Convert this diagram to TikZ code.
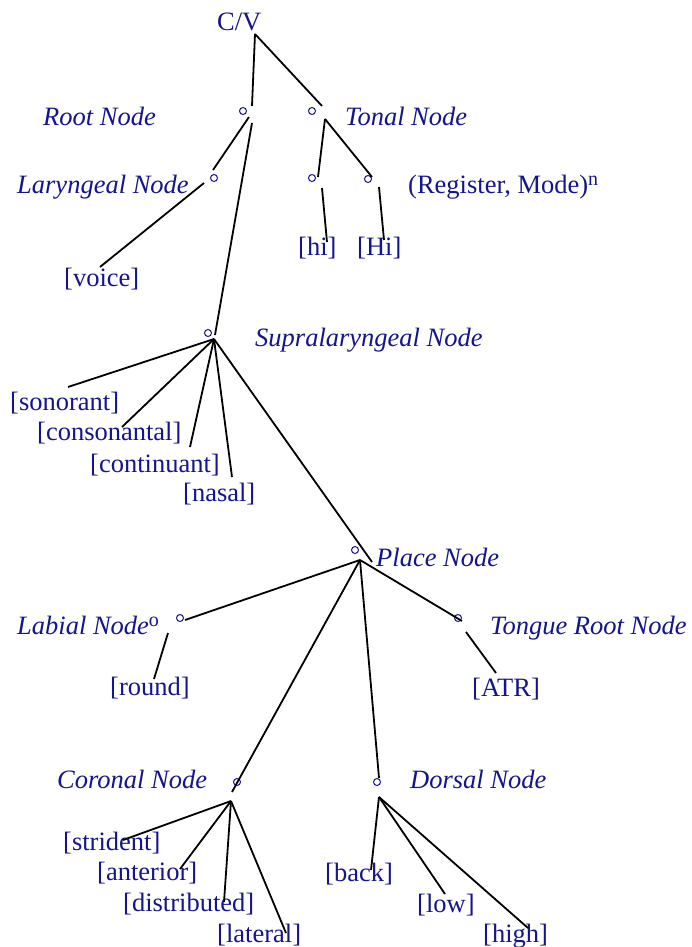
\documentclass[tikz,border=0pt]{standalone}
\usepackage{fontspec}
\setmainfont{Liberation Serif}
\definecolor{navy}{RGB}{20,20,140}
\newcommand{\supx}[1]{\raisebox{8pt}{\fontsize{20}{20}\selectfont\upshape #1}}
\begin{document}
\begin{tikzpicture}[x=1pt,y=-1pt,
 lbl/.style={anchor=base west,inner sep=0pt,text=navy,font=\fontsize{26.5}{30}\selectfont},
 ilbl/.style={lbl,font=\fontsize{26.5}{30}\selectfont\itshape},
 dot/.style={circle,draw=navy,line width=1pt,minimum size=7pt,inner sep=0pt},
 edge/.style={line width=1.8pt,black}]
\useasboundingbox (0,0) rectangle (692,947);
% labels
\node[lbl] (cv) at (217,31) {C/V};
\node[ilbl] (rootl) at (43,125) {Root Node};
\node[ilbl] (tonall) at (345,125) {Tonal Node};
\node[ilbl] (laryl) at (17,193) {Laryngeal Node};
\node[lbl] (reg) at (408,193) {(Register, Mode)\supx{n}};
\node[lbl] (voice) at (64,286) {[voice]};
\node[lbl] (hi) at (298,255) {[hi]};
\node[lbl] (Hi) at (357,255) {[Hi]};
\node[ilbl] (supl) at (255,346) {Supralaryngeal Node};
\node[lbl] (son) at (10,410) {[sonorant]};
\node[lbl] (cons) at (37,440) {[consonantal]};
\node[lbl] (cont) at (90,472) {[continuant]};
\node[lbl] (nas) at (183,501) {[nasal]};
\node[ilbl] (placel) at (376,566) {Place Node};
\node[ilbl] (labl) at (17,634) {Labial Node\supx{o}};
\node[ilbl] (trl) at (490,634) {Tongue Root Node};
\node[lbl] (round) at (110,695) {[round]};
\node[lbl] (atr) at (472,696) {[ATR]};
\node[ilbl] (corl) at (57,788) {Coronal Node};
\node[ilbl] (dorl) at (410,788) {Dorsal Node};
\node[lbl] (stri) at (63,850) {[strident]};
\node[lbl] (ant) at (97,880) {[anterior]};
\node[lbl] (dist) at (123,911) {[distributed]};
\node[lbl] (lat) at (217,942) {[lateral]};
\node[lbl] (back) at (325,881) {[back]};
\node[lbl] (low) at (417,912) {[low]};
\node[lbl] (high) at (483,942) {[high]};
% dots
\node[dot] (root) at (243,111) {};
\node[dot] (tonal) at (312,111) {};
\node[dot] (lary) at (214,178) {};
\node[dot] (tl) at (312,178) {};
\node[dot] (tr) at (368,179) {};
\node[dot] (supra) at (208,333) {};
\node[dot] (place) at (355,550) {};
\node[dot] (labial) at (180,618) {};
\node[dot] (tongue) at (458,618) {};
\node[dot] (coronal) at (237,782) {};
\node[dot] (dorsal) at (377,782) {};
% connector points
\coordinate (cvB) at (255,34);
\coordinate (rootT) at (252,106);
\coordinate (tonalT) at (322,106);
\coordinate (rootB1) at (249,117);
\coordinate (rootB2) at (252,123);
\coordinate (laryT) at (213,170);
\coordinate (laryB) at (204,183);
\coordinate (voiceT) at (100,267);
\coordinate (tonalB) at (325,119);
\coordinate (tlT) at (318,177);
\coordinate (trT) at (372,177);
\coordinate (tlB) at (322,188);
\coordinate (trB) at (379,187);
\coordinate (hiT) at (327,242);
\coordinate (HiT) at (384,240);
\coordinate (supraT) at (215,335);
\coordinate (supraB) at (214,339);
\coordinate (sonT) at (68,387);
\coordinate (consT) at (122,427);
\coordinate (contT) at (190,447);
\coordinate (nasT) at (232,477);
\coordinate (placeT) at (372,562);
\coordinate (placeB) at (360,560);
\coordinate (labialT) at (185,620);
\coordinate (tongueT) at (462,621);
\coordinate (coronalT) at (232,792);
\coordinate (dorsalT) at (379,778);
\coordinate (labialB) at (168,633);
\coordinate (roundT) at (154,679);
\coordinate (tongueB) at (466,632);
\coordinate (atrT) at (496,673);
\coordinate (coronalB) at (231,801);
\coordinate (striT) at (123,840);
\coordinate (antT) at (180,869);
\coordinate (distT) at (224,902);
\coordinate (latT) at (286,933);
\coordinate (dorsalB) at (379,797);
\coordinate (backT) at (371,870);
\coordinate (lowT) at (445,894);
\coordinate (highT) at (528,928);
% connectors
\draw[edge] (cvB) -- (rootT);
\draw[edge] (cvB) -- (tonalT);
\draw[edge] (rootB1) -- (laryT);
\draw[edge] (rootB2) -- (supraT);
\draw[edge] (laryB) -- (voiceT);
\draw[edge] (tonalB) -- (tlT);
\draw[edge] (tonalB) -- (trT);
\draw[edge] (tlB) -- (hiT);
\draw[edge] (trB) -- (HiT);
\draw[edge] (supraB) -- (sonT);
\draw[edge] (supraB) -- (consT);
\draw[edge] (supraB) -- (contT);
\draw[edge] (supraB) -- (nasT);
\draw[edge] (supraB) -- (placeT);
\draw[edge] (placeB) -- (labialT);
\draw[edge] (placeB) -- (tongueT);
\draw[edge] (placeB) -- (coronalT);
\draw[edge] (placeB) -- (dorsalT);
\draw[edge] (labialB) -- (roundT);
\draw[edge] (tongueB) -- (atrT);
\draw[edge] (coronalB) -- (striT);
\draw[edge] (coronalB) -- (antT);
\draw[edge] (coronalB) -- (distT);
\draw[edge] (coronalB) -- (latT);
\draw[edge] (dorsalB) -- (backT);
\draw[edge] (dorsalB) -- (lowT);
\draw[edge] (dorsalB) -- (highT);
\end{tikzpicture}
\end{document}
